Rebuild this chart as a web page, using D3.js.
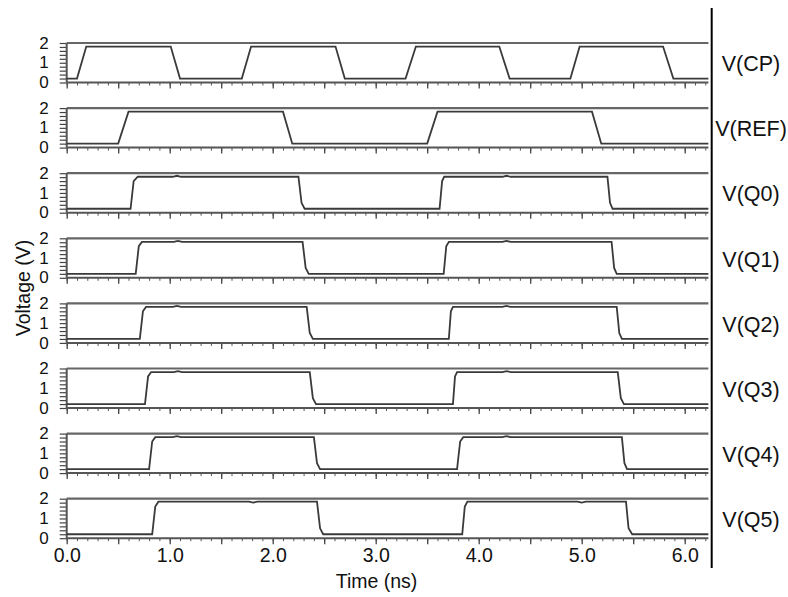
<!DOCTYPE html>
<html>
<head>
<meta charset="utf-8"/>
<title>Waveforms</title>
<style>
body { margin: 0; background: #fff; }
text { font-family: "Liberation Sans", Arial, sans-serif; fill: #111; }
</style>
<script src="https://d3js.org/d3.v7.min.js"></script>
</head>
<body>
<div id="chart"></div>
<script>
// signal names shown on the right
var signalNames = ["V(CP)", "V(REF)", "V(Q0)", "V(Q1)", "V(Q2)", "V(Q3)", "V(Q4)", "V(Q5)"];

// breakpoints, time in ns and voltage in V
var cpTime = [0, 0.10, 0.19, 1.01, 1.10, 1.70, 1.79, 2.61, 2.70, 3.29, 3.39, 4.20, 4.30, 4.89, 4.98, 5.79, 5.89, 6.23];
var cpVolt = [0.2, 0.2, 1.82, 1.82, 0.2, 0.2, 1.82, 1.82, 0.2, 0.2, 1.82, 1.82, 0.2, 0.2, 1.82, 1.82, 0.2, 0.2];

var refTime = [0, 0.50, 0.60, 2.10, 2.19, 3.50, 3.60, 5.10, 5.19, 6.23];
var refVolt = [0.2, 0.2, 1.82, 1.82, 0.2, 0.2, 1.82, 1.82, 0.2, 0.2];

var q0Time = [0, 0.62, 0.65, 0.69, 1.03, 1.07, 1.11, 2.25, 2.28, 2.31, 3.62, 3.645, 3.665, 4.23, 4.27, 4.31, 5.25, 5.275, 5.30, 6.23];
var q1Time = [0, 0.67, 0.70, 0.73, 1.04, 1.08, 1.12, 2.29, 2.32, 2.35, 3.66, 3.685, 3.71, 4.23, 4.27, 4.31, 5.29, 5.315, 5.34, 6.23];
var q2Time = [0, 0.71, 0.74, 0.77, 1.03, 1.07, 1.11, 2.33, 2.36, 2.39, 3.71, 3.73, 3.75, 4.23, 4.27, 4.31, 5.34, 5.365, 5.39, 6.23];
var q3Time = [0, 0.76, 0.79, 0.82, 1.04, 1.08, 1.12, 2.36, 2.39, 2.42, 3.75, 3.77, 3.79, 4.23, 4.27, 4.31, 5.35, 5.38, 5.41, 6.23];
var q4Time = [0, 0.80, 0.83, 0.86, 1.03, 1.07, 1.11, 2.40, 2.43, 2.46, 3.79, 3.82, 3.85, 4.23, 4.27, 4.31, 5.39, 5.415, 5.44, 6.23];
var q5Time = [0, 0.83, 0.86, 0.89, 1.77, 1.81, 1.85, 2.43, 2.46, 2.49, 3.84, 3.865, 3.89, 4.96, 5.00, 5.04, 5.43, 5.455, 5.49, 6.23];
// Q0..Q4 share the same level pattern (small bump on the high level)
var qVolt = [0.2, 0.2, 1.6, 1.82, 1.82, 1.87, 1.82, 1.82, 0.5, 0.2, 0.2, 1.6, 1.82, 1.82, 1.87, 1.82, 1.82, 0.5, 0.2, 0.2];
// Q5 has a small dip instead
var q5Volt = [0.2, 0.2, 1.6, 1.85, 1.85, 1.8, 1.85, 1.85, 0.5, 0.2, 0.2, 1.6, 1.85, 1.85, 1.8, 1.85, 1.85, 0.5, 0.2, 0.2];

var xTickLabels = [0, 1, 2, 3, 4, 5, 6];
var yTickLabels = [0, 1, 2];

var allTimes = [cpTime, refTime, q0Time, q1Time, q2Time, q3Time, q4Time, q5Time];
var allVolts = [cpVolt, refVolt, qVolt, qVolt, qVolt, qVolt, qVolt, q5Volt];

var width = 788, height = 597;
var left = 66.7, tMax = 6.23;
var panelTop = 43, panelPitch = 65.1, panelH = 39.5;

var svg = d3.select("#chart").append("svg")
  .attr("width", width)
  .attr("height", height);

var x = d3.scaleLinear().domain([0, tMax]).range([left, left + 103 * tMax]);

var line = d3.line()
  .x(function(d) { return x(d[0]); });

signalNames.forEach(function(name, i) {
  var top = panelTop + panelPitch * i;
  var y = d3.scaleLinear().domain([0, 2]).range([top + panelH, top]);
  var g = svg.append("g");

  // minor ticks on time axis
  g.append("g")
    .attr("transform", "translate(0," + y(0) + ")")
    .call(d3.axisBottom(x).tickValues(d3.range(0, 6.21, 0.1)).tickSize(3).tickFormat(""))
    .call(function(s) { s.select(".domain").remove(); s.selectAll("line").attr("stroke", "#555"); });
  // major ticks every 0.5 ns
  g.append("g")
    .attr("transform", "translate(0," + y(0) + ")")
    .call(d3.axisBottom(x).tickValues(d3.range(0, 6.01, 0.5)).tickSize(6).tickFormat(""))
    .call(function(s) { s.select(".domain").remove(); s.selectAll("line").attr("stroke", "#444").attr("stroke-width", 1.3); });

  // little voltage ticks on the left
  g.append("g")
    .attr("transform", "translate(" + left + ",0)")
    .call(d3.axisLeft(y).tickValues(d3.range(0, 2.01, 0.2)).tickSize(7).tickFormat(""))
    .call(function(s) { s.select(".domain").remove(); s.selectAll("line").attr("stroke", "#444").attr("stroke-width", 1.2); });

  // voltage labels
  g.append("g")
    .attr("transform", "translate(" + left + ",0)")
    .call(d3.axisLeft(y).tickValues(yTickLabels).tickSize(0).tickPadding(18).tickFormat(d3.format("d")))
    .call(function(s) {
      s.select(".domain").remove();
      s.selectAll("text").style("font-size", "17px").attr("fill", "#111").attr("dy", "0.3em");
    });

  // frame lines: top (2 V), bottom axis and left axis
  g.append("line")
    .attr("x1", left).attr("x2", x(tMax))
    .attr("y1", y(2)).attr("y2", y(2))
    .attr("stroke", "#666").attr("stroke-width", 2.2);
  g.append("line")
    .attr("x1", left).attr("x2", x(tMax))
    .attr("y1", y(0)).attr("y2", y(0))
    .attr("stroke", "#555").attr("stroke-width", 2);
  g.append("line")
    .attr("x1", left).attr("x2", left)
    .attr("y1", y(2)).attr("y2", y(0))
    .attr("stroke", "#555").attr("stroke-width", 2);

  // the waveform
  var pts = allTimes[i].map(function(t, k) { return [t, allVolts[i][k]]; });
  g.append("path")
    .datum(pts)
    .attr("d", line.y(function(d) { return y(d[1]); }))
    .attr("fill", "none")
    .attr("stroke", "#3a3a3a")
    .attr("stroke-width", 1.8);

  // signal name on the right
  svg.append("text")
    .attr("x", 751)
    .attr("y", top + panelH / 2 + 1)
    .attr("dy", "0.35em")
    .attr("text-anchor", "middle")
    .style("font-size", "21.5px")
    .text(name);

  // time labels only under the last panel
  if (i === signalNames.length - 1) {
    svg.append("g")
      .attr("transform", "translate(0," + y(0) + ")")
      .call(d3.axisBottom(x).tickValues(xTickLabels).tickSize(0).tickPadding(10).tickFormat(d3.format(".1f")))
      .call(function(s) {
        s.select(".domain").remove();
        s.selectAll("text").style("font-size", "19.5px").attr("fill", "#111");
      });
  }
});

// black vertical rule on the right
svg.append("line")
  .attr("x1", 711.7).attr("x2", 711.7)
  .attr("y1", 8).attr("y2", 568)
  .attr("stroke", "#000").attr("stroke-width", 2);

// axis titles
svg.append("text")
  .attr("x", 376.5)
  .attr("y", 588)
  .attr("text-anchor", "middle")
  .style("font-size", "19.5px")
  .text("Time (ns)");

svg.append("text")
  .attr("transform", "translate(30,288) rotate(-90)")
  .attr("text-anchor", "middle")
  .style("font-size", "19.5px")
  .text("Voltage (V)");
</script>
</body>
</html>
